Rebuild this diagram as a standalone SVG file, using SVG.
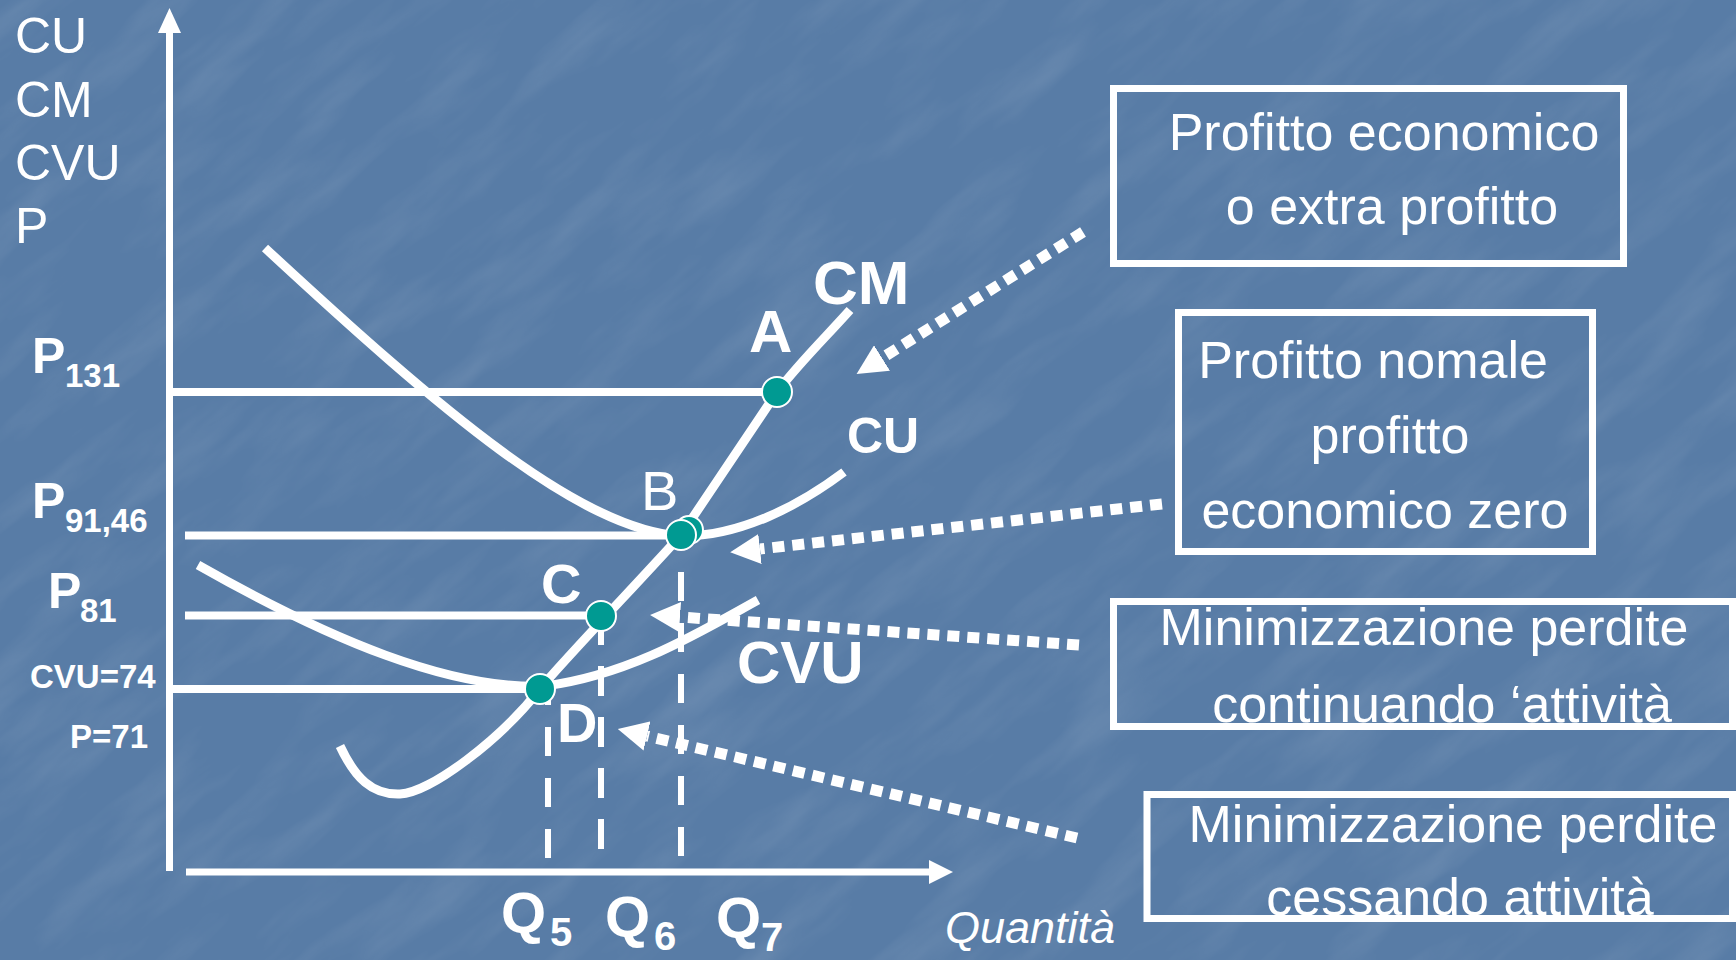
<svg xmlns="http://www.w3.org/2000/svg" width="1736" height="960" viewBox="0 0 1736 960">
<defs>
<style>
.ax{stroke:#fff;stroke-width:7;fill:none}
.cv{stroke:#fff;stroke-width:9;fill:none;stroke-linecap:butt}
.hl{stroke:#fff;stroke-width:8;fill:none}
.dl{stroke:#fff;stroke-width:6;fill:none;stroke-dasharray:29 22}
.dot{stroke:#fff;stroke-width:11;fill:none;stroke-dasharray:12 8}
.pt{fill:#009a92;stroke:#fff;stroke-width:2}
.box{fill:none;stroke:#fff;stroke-width:7}
.t{fill:#fff;font-family:"Liberation Sans",Arial,sans-serif}
.b{font-weight:bold}
.bx{fill:#fff;font-family:"Liberation Sans",Arial,sans-serif;font-size:52px;text-anchor:middle}
</style>
<marker id="ah" viewBox="0 0 30 30" refX="0" refY="15" markerWidth="30" markerHeight="30" markerUnits="userSpaceOnUse" orient="auto">
<path d="M0,0 L30,15 L0,30 z" fill="#fff"/>
</marker>
<filter id="tex" x="0" y="0" width="100%" height="100%">
<feTurbulence type="fractalNoise" baseFrequency="0.006 0.025" numOctaves="4" seed="7"/>
<feColorMatrix type="matrix" values="0 0 0 0 1  0 0 0 0 1  0 0 0 0 1  1.4 0 0 0 -0.62"/>
</filter>
</defs>
<rect x="0" y="0" width="1736" height="960" fill="#587ca6"/>
<g opacity="0.14">
<rect x="-600" y="-600" width="2900" height="2200" filter="url(#tex)" transform="rotate(-40 868 480)"/>
</g>

<g id="axes">
<line class="ax" x1="169.5" y1="28" x2="169.5" y2="871"/>
<polygon points="169.5,8 181,33 158,33" fill="#fff"/>
<line class="ax" x1="186" y1="872" x2="932" y2="872"/>
<polygon points="953,872 929,860 929,884" fill="#fff"/>
</g>

<g id="guides">
<line class="hl" x1="173" y1="392" x2="777" y2="392"/>
<line class="hl" x1="185" y1="535.5" x2="681" y2="535.5"/>
<line class="hl" x1="185" y1="615.5" x2="601" y2="615.5"/>
<line class="hl" x1="173" y1="689" x2="540" y2="689"/>
<line class="dl" x1="548" y1="676" x2="548" y2="860"/>
<line class="dl" x1="601" y1="615" x2="601" y2="850" style="stroke-dasharray:30 21"/>
<line class="dl" x1="681" y1="572" x2="681" y2="856"/>
</g>

<g id="curves">
<path id="curve-CU" class="cv" d="M265,248 C440,410 580,530 681,536 C740,537 800,505 844,472"/>
<path id="curve-CVU" class="cv" d="M198,565 C330,640 450,690 545,686 C630,675 700,632 758,600"/>
<path id="curve-CM" class="cv" d="M340,746 C355,778 372,795 400,794 C430,793 500,740 540,689 C560,664 650,570 681,535 C713,487 745,440 777,392 C800,362 825,338 850,310"/>
</g>

<g id="connectors">
<path class="dot" d="M1083,232 L882,358" marker-end="url(#ah)"/>
<path class="dot" d="M1162,504 L760,549" marker-end="url(#ah)"/>
<path class="dot" d="M1079,645 L680,617" marker-end="url(#ah)"/>
<path class="dot" d="M1077,838 L647,736" marker-end="url(#ah)"/>
</g>

<g id="point-A"><circle class="pt" cx="777" cy="392" r="15"/></g>
<g id="point-B"><circle class="pt" cx="689" cy="530" r="14"/><circle class="pt" cx="681" cy="535" r="15"/></g>
<g id="point-C"><circle class="pt" cx="601" cy="616" r="15"/></g>
<g id="point-D"><circle class="pt" cx="540" cy="689" r="15"/></g>

<g id="y-axis-label">
<text class="t" x="15" y="53" font-size="50">CU</text>
<text class="t" x="15" y="117" font-size="50">CM</text>
<text class="t" x="15" y="180" font-size="50">CVU</text>
<text class="t" x="15" y="243" font-size="50">P</text>
</g>

<g id="price-labels">
<text class="t b" x="32" y="373" font-size="50">P</text><text class="t b" x="65" y="387" font-size="33">131</text>
<text class="t b" x="32" y="518" font-size="50">P</text><text class="t b" x="65" y="532" font-size="33">91,46</text>
<text class="t b" x="48" y="608" font-size="50">P</text><text class="t b" x="80" y="622" font-size="33">81</text>
<text class="t b" x="30" y="688" font-size="33">CVU=74</text>
<text class="t b" x="70" y="748" font-size="33">P=71</text>
</g>

<g id="curve-labels">
<text class="t b" x="813" y="304" font-size="62">CM</text>
<text class="t b" x="847" y="453" font-size="50">CU</text>
<text class="t b" x="737" y="683" font-size="60">CVU</text>
<text class="t b" x="749" y="352" font-size="60">A</text>
<text class="t" x="641" y="510" font-size="56">B</text>
<text class="t b" x="541" y="603" font-size="56">C</text>
<text class="t b" x="557" y="742" font-size="56">D</text>
</g>

<g id="quantity-labels">
<text class="t b" x="501" y="933" font-size="58">Q</text><text class="t b" x="550" y="946" font-size="40">5</text>
<text class="t b" x="605" y="937" font-size="58">Q</text><text class="t b" x="654" y="950" font-size="40">6</text>
<text class="t b" x="716" y="938" font-size="58">Q</text><text class="t b" x="761" y="951" font-size="40">7</text>
<text class="t" x="945" y="943" font-size="45" font-style="italic">Quantità</text>
</g>

<g id="box-extra-profitto">
<rect class="box" x="1113.5" y="88.5" width="510" height="175"/>
<text class="bx" x="1384" y="150">Profitto economico</text>
<text class="bx" x="1392" y="224">o extra profitto</text>
</g>

<g id="box-profitto-normale">
<rect class="box" x="1178.5" y="312.5" width="414" height="239"/>
<text class="bx" x="1373" y="378">Profitto nomale</text>
<text class="bx" x="1390" y="453">profitto</text>
<text class="bx" x="1385" y="528">economico zero</text>
</g>

<g id="box-continuando">
<rect class="box" x="1113.5" y="601.5" width="619" height="125"/>
<text class="bx" x="1424" y="645">Minimizzazione perdite</text>
<text class="bx" x="1442" y="722">continuando ‘attività</text>
</g>

<g id="box-cessando">
<rect class="box" x="1147" y="794.5" width="585.5" height="124"/>
<text class="bx" x="1453" y="842">Minimizzazione perdite</text>
<text class="bx" x="1460" y="915">cessando attività</text>
</g>
</svg>
